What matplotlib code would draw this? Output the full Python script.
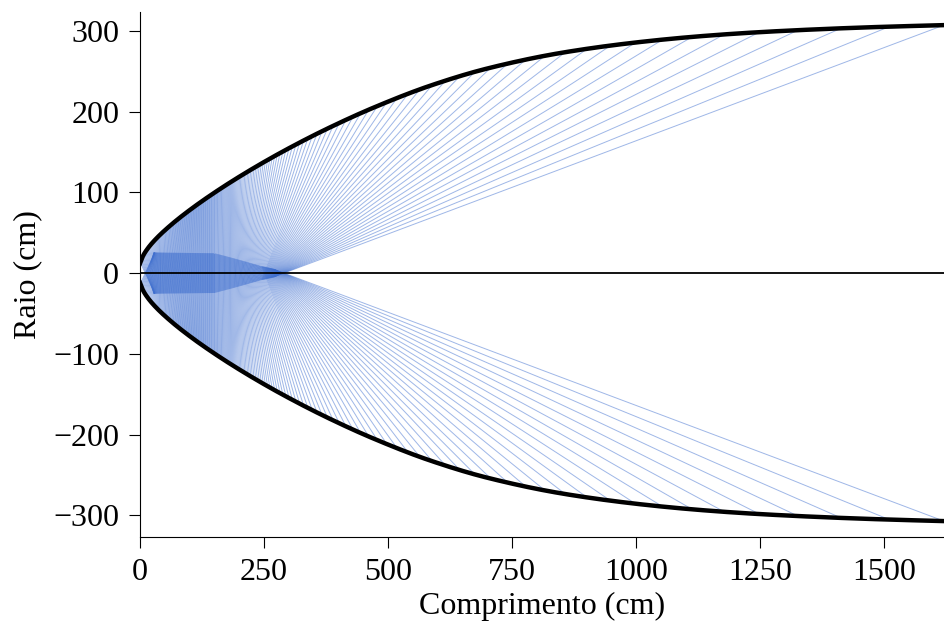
import numpy as np
import matplotlib
matplotlib.use('Agg')
import matplotlib.pyplot as plt

# upper wall of the reflector (cm)
wall_x = [0, 5, 15, 30, 60, 100, 157, 220, 292, 377, 470, 585, 700, 850, 1000, 1129, 1250, 1400, 1500, 1640]
wall_y = [12, 20, 30, 41, 58.4, 78, 102.5, 126.8, 152, 178.8, 204.8, 232.2, 253.5, 273, 285.8,
          293.5, 298.6, 303, 305.2, 307.6]

# ray fan: wall points are picked at equal angles seen from fan_x on the axis,
# each ray runs from the wall through the axis and a little past it
fan_x = 150
fan_first_deg = 11.8
fan_last_deg = 175.4
fan_step_deg = 0.85
# axis crossing and overshoot past the axis, at a few fan angles
anchor_deg = [11.8, 40, 90, 175.4]
anchor_cross = [290, 250, 150, 10]
anchor_over = [4, 8, 24, 25]


def pchip(xk, yk, x):
    xk = np.asarray(xk, float)
    yk = np.asarray(yk, float)
    h = np.diff(xk)
    dl = np.diff(yk) / h
    d = np.zeros_like(xk)
    d[0], d[-1] = dl[0], dl[-1]
    for k in range(1, len(xk) - 1):
        w1 = 2 * h[k] + h[k - 1]
        w2 = h[k] + 2 * h[k - 1]
        d[k] = (w1 + w2) / (w1 / dl[k - 1] + w2 / dl[k])
    i = np.clip(np.searchsorted(xk, x) - 1, 0, len(xk) - 2)
    t = (x - xk[i]) / h[i]
    return ((2 * t**3 - 3 * t**2 + 1) * yk[i] + (t**3 - 2 * t**2 + t) * h[i] * d[i]
            + (-2 * t**3 + 3 * t**2) * yk[i + 1] + (t**3 - t**2) * h[i] * d[i + 1])


plt.rcParams['font.family'] = ['Liberation Serif', 'DejaVu Serif']

fig = plt.figure(figsize=(9.44, 6.30), dpi=100)
ax = fig.add_axes([0.1483, 0.1476, 0.8517, 0.8333])

xs = np.linspace(0, wall_x[-1], 6000)
ys = pchip(wall_x, wall_y, xs)
phi = np.degrees(np.arctan2(ys, xs - fan_x))
angles = np.arange(fan_first_deg, fan_last_deg + 1e-6, fan_step_deg)
hit_x = np.interp(angles, phi[::-1], xs[::-1])
hit_y = pchip(wall_x, wall_y, hit_x)
cross = np.interp(angles, anchor_deg, anchor_cross)
over = np.interp(angles, anchor_deg, anchor_over)

for hx, hy, cx, ov in zip(hit_x, hit_y, cross, over):
    end_x = cx + (cx - hx) * ov / hy
    for s in (1, -1):
        ax.plot([hx, end_x], [s * hy, -s * ov], color='#3f6fcf', lw=0.7,
                alpha=0.5, zorder=1)

ax.axhline(0, color='black', lw=1.3, zorder=2)
ax.plot(xs, ys, color='black', lw=3.2, zorder=3)
ax.plot(xs, -ys, color='black', lw=3.2, zorder=3)

ax.set_xlim(0, 1621)
ax.set_ylim(-327, 323.5)
ax.set_xticks([0, 250, 500, 750, 1000, 1250, 1500])
ax.set_yticks([-300, -200, -100, 0, 100, 200, 300])
ax.spines['top'].set_visible(False)
ax.spines['right'].set_visible(False)
ax.tick_params(labelsize=23, length=8, pad=7)
ax.set_xlabel('Comprimento (cm)', fontsize=23, labelpad=4)
ax.set_ylabel('Raio (cm)', fontsize=23, labelpad=8)

fig.savefig('out.png', dpi=100)
